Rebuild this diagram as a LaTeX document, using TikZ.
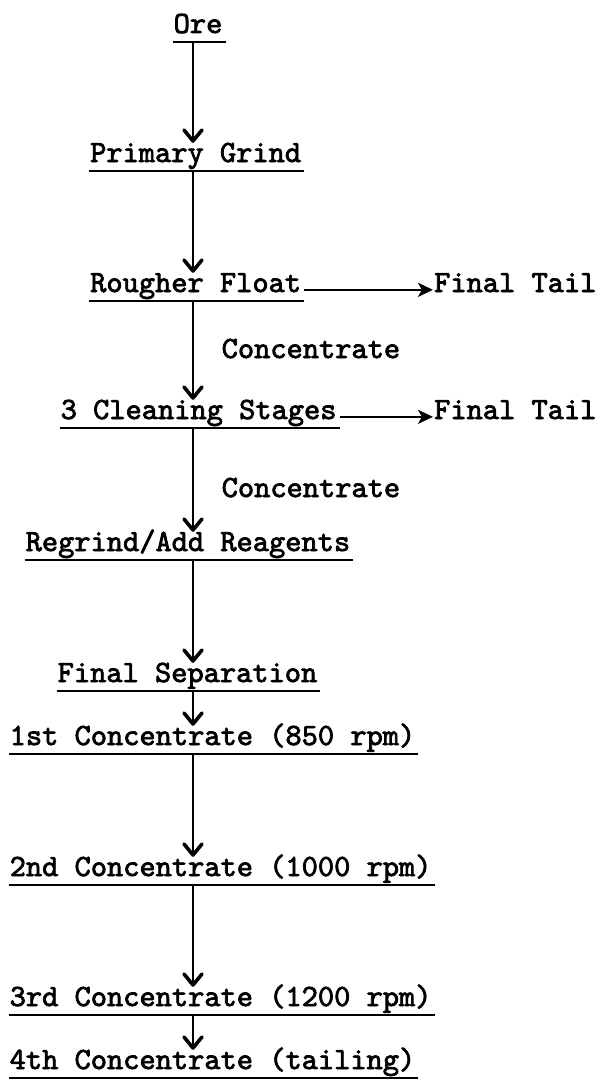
\documentclass[tikz,border=0pt]{standalone}
\usepackage{fontspec}
\newfontfamily\typew[FakeBold=2.4]{lmmono10-regular.otf}
\usetikzlibrary{arrows.meta}
\tikzset{
  lbl/.style={anchor=base west, inner sep=0pt, text height=19pt, text depth=9pt,
              font=\typew\fontsize{30.9}{31}\selectfont},
  uline/.style={line width=2pt},
  down/.style={line width=2.6pt, -{Straight Barb[length=11pt,width=18pt,line width=3.6pt,round]}},
  side/.style={line width=2.6pt, -{Stealth[length=15pt,width=14pt,inset=4pt]}},
}
\begin{document}
\begin{tikzpicture}[x=1pt,y=-1pt]
\useasboundingbox[fill=white] (0,0) rectangle (604,1081);
\coordinate (spine) at (193,0);
% process steps
\node[lbl] (ore) at (173.5,33)  {Ore};
\node[lbl] (pg)  at (90,162)    {Primary Grind};
\node[lbl] (rf)  at (90,292)    {Rougher Float};
\node[lbl] (ft1) at (434,292)   {Final Tail};
\node[lbl] (c1)  at (221.5,358) {Concentrate};
\node[lbl] (cs)  at (60.5,419)  {3 Cleaning Stages};
\node[lbl] (ft2) at (434,419)   {Final Tail};
\node[lbl] (c2)  at (221.5,497) {Concentrate};
\node[lbl] (rar) at (25.5,551)  {Regrind/Add Reagents};
\node[lbl] (fs)  at (57.5,682)  {Final Separation};
\node[lbl] (k1)  at (9.5,745)   {1st Concentrate (850 rpm)};
\node[lbl] (k2)  at (9.5,876)   {2nd Concentrate (1000 rpm)};
\node[lbl] (k3)  at (9.5,1006)  {3rd Concentrate (1200 rpm)};
\node[lbl] (k4)  at (9.5,1069)  {4th Concentrate (tailing)};
% underlines
\foreach \n in {ore,pg,rf,cs,rar,fs,k1,k2,k3,k4}
  \draw[uline] ([xshift=-1pt]\n.south west) -- ([xshift=3pt]\n.south east);
% vertical flow
\draw[down] (ore.south -| spine) -- (pg.north -| spine);
\draw[down] (pg.south -| spine)  -- (rf.north -| spine);
\draw[down] (rf.south -| spine)  -- (cs.north -| spine);
\draw[down] (cs.south -| spine)  -- (rar.north -| spine);
\draw[down] (rar.south -| spine) -- (fs.north -| spine);
\draw[down] (fs.south -| spine)  -- (k1.north -| spine);
\draw[down] (k1.south -| spine)  -- (k2.north -| spine);
\draw[down] (k2.south -| spine)  -- (k3.north -| spine);
\draw[down] (k3.south -| spine)  -- (k4.north -| spine);
% tails
\draw[side] ([xshift=3pt]rf.mid east) -- ([xshift=-1pt]ft1.mid west);
\draw[side] ([xshift=3pt]cs.mid east) -- ([xshift=-1pt]ft2.mid west);
\end{tikzpicture}
\end{document}
